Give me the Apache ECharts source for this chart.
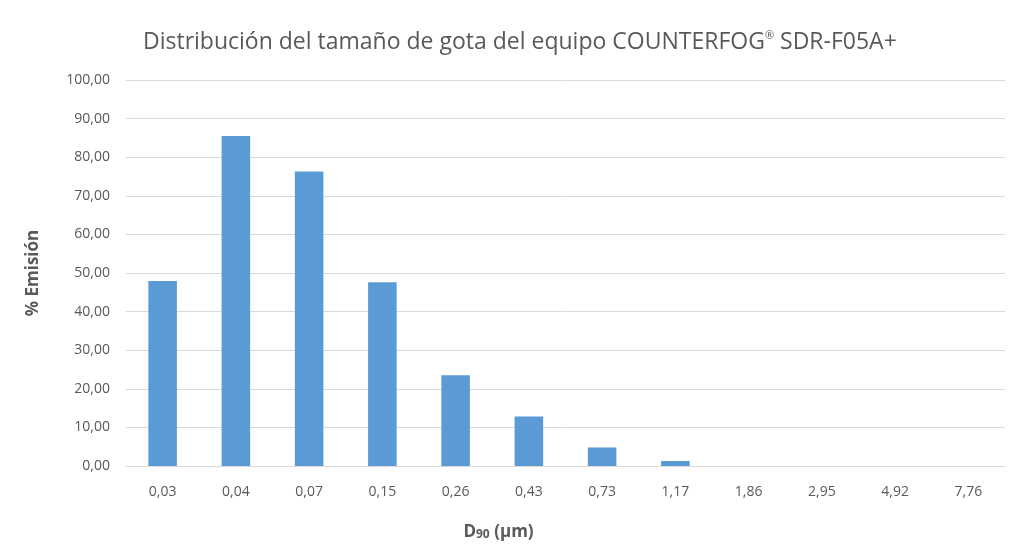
<!DOCTYPE html>
<html>
<head>
<meta charset="utf-8">
<style>
  html, body { margin: 0; padding: 0; background: #fff; }
  #chart { width: 1012px; height: 549px; }
</style>
<script src="https://cdn.jsdelivr.net/npm/echarts@6/dist/echarts.min.js"></script>
</head>
<body>
<div id="chart"></div>
<script>
// categorias del eje x (D90 en µm)
const categories = ['0,03', '0,04', '0,07', '0,15', '0,26', '0,43', '0,73', '1,17', '1,86', '2,95', '4,92', '7,76']
// % de emision por tamaño de gota
const emision = [47.9, 85.5, 76.3, 47.6, 23.5, 12.8, 4.8, 1.3, 0, 0, 0, 0]

const FONT = '"Open Sans", "Liberation Sans", sans-serif'
const GREY = '#595959'

const chart = echarts.init(document.getElementById('chart'))
const option = {
  animation: false,
  title: {
    text: '{t|Distribución del tamaño de gota del equipo COUNTERFOG}{sup|®}{t| SDR-F05A+}',
    left: 138,
    top: 25,
    textStyle: {
      rich: {
        t: { fontFamily: FONT, fontSize: 23, fontWeight: 'normal', color: GREY },
        sup: { fontFamily: FONT, fontSize: 11, fontWeight: 'normal', color: GREY, verticalAlign: 'top', padding: [0, 0, 14, 0] }
      }
    }
  },
  grid: { left: 126, right: 7, top: 80, bottom: 83 },
  xAxis: {
    type: 'category',
    data: categories,
    axisTick: { show: false },
    axisLine: { lineStyle: { color: '#d9d9d9', width: 1 } },
    axisLabel: { color: GREY, fontFamily: FONT, fontSize: 14, margin: 19 },
    name: '{n|D}{s|90}{n| (µm)}',
    nameLocation: 'middle',
    nameGap: 57,
    nameTextStyle: {
      padding: [0, 134, 0, 0],
      rich: {
        n: { fontFamily: FONT, fontSize: 17, fontWeight: 'bold', color: GREY },
        s: { fontFamily: FONT, fontSize: 12, fontWeight: 'bold', color: GREY, verticalAlign: 'bottom', padding: [6, 0, 0, 0] }
      }
    }
  },
  yAxis: {
    type: 'value',
    min: 0,
    max: 100,
    interval: 10,
    axisLabel: {
      color: GREY, fontFamily: FONT, fontSize: 14, margin: 16,
      formatter: v => v.toFixed(2).replace('.', ',')
    },
    splitLine: { lineStyle: { color: '#d9d9d9', width: 1 } },
    name: '% Emisión',
    nameLocation: 'middle',
    nameGap: 84,
    nameTextStyle: { fontFamily: FONT, fontSize: 17, fontWeight: 'bold', color: GREY }
  },
  series: [{
    type: 'bar',
    data: emision,
    barCategoryGap: '61%',
    itemStyle: { color: '#5b9bd5' }
  }]
}
chart.setOption(option)
</script>
</body>
</html>
